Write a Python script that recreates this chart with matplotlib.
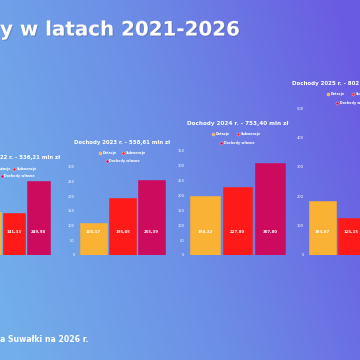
import numpy as np
import matplotlib
matplotlib.use("Agg")
import matplotlib.pyplot as plt
from matplotlib.colors import LinearSegmentedColormap
import matplotlib.patheffects as pe

# values (mln zl)
years = ["2022", "2023", "2024", "2025"]
categories = ["Dotacje", "Subwencje", "Dochody własne"]
v2022 = [144.90, 141.33, 249.98]
v2023 = [108.17, 195.05, 255.39]
v2024 = [198.32, 227.80, 307.80]
v2025 = [183.87, 125.15, 493.54]
ytops = [250, 300, 350, 500]
ysteps = [50, 50, 50, 100]
values = [v2022, v2023, v2024, v2025]
# only the parts of the texts that are inside the cropped slide
titles = ["22 r. - 536,21 mln zł", "Dochody 2023 r. - 558,61 mln zł",
          "Dochody 2024 r. - 753,40 mln zł", "Dochody 2025 r. - 802"]
leg_names = [["otacje", "Subwencje", "Dochody własne"],
             categories, categories,
             ["Dotacje", "Su", "Dochody wł"]]
colors = ["#F9B233", "#FF1A1A", "#CC0A5E"]

W = H = 360.0

def fx(px):
    return px / W

def fy(py):
    return 1 - py / H

fig = plt.figure(figsize=(3.6, 3.6), dpi=100)

# gradient background
bg = fig.add_axes([0, 0, 1, 1])
xx, yy = np.meshgrid(np.linspace(0, 1, 300), np.linspace(0, 1, 300))
t = np.clip(0.85 * xx + 0.25 * (1 - yy) - 0.05, 0, 1)
cmap = LinearSegmentedColormap.from_list("bg", ["#72AEEA", "#6C8DE6", "#6A5CE2"])
bg.imshow(t, cmap=cmap, extent=[0, 1, 0, 1], aspect="auto", origin="upper")
bg.axis("off")

fig.text(fx(0), fy(30), "y w latach 2021-2026", color="white", fontsize=14.3,
         fontweight="bold", va="center", ha="left",
         path_effects=[pe.withSimplePatchShadow(offset=(0.8, -0.8), alpha=0.25)])
fig.text(fx(0), fy(340), "a Suwałki na 2026 r.", color="white", fontsize=5.6,
         fontweight="bold", va="center", ha="left")

# layout of the four small charts (pixels)
ax_left = [-22.75, 79, 188.75, 308]
ax_width = [73.5, 87, 97.5, 87]
ax_topy = [181, 167, 150, 108]
base_y = 255
bar_w = [0.9, 0.93, 0.92, 0.93]
title_pos = [(0, 157, "left"), (122, 143, "center"), (237.5, 124, "center"),
             (292, 84, "left")]
title_fs = [3.9, 3.9, 4.1, 4.0]
leg_row1 = [(-10, 14, 169), (100, 123, 153), (213, 238, 134), (328, 353, 94)]
leg_row2 = [(2, 176), (107, 161), (221, 143), (337, 103)]

for i in range(4):
    ax = fig.add_axes([fx(ax_left[i]), fy(base_y), ax_width[i] / W,
                       (base_y - ax_topy[i]) / H])
    ax.patch.set_alpha(0)
    x = np.arange(3)
    ax.bar(x, values[i], width=bar_w[i], color=colors, edgecolor=colors,
           linewidth=0.4)
    ax.set_xlim(-0.5, 2.5)
    ax.set_ylim(0, ytops[i])
    ax.set_yticks(np.arange(0, ytops[i] + 1, ysteps[i]))
    ax.tick_params(axis="y", colors="white", labelsize=2.6, length=0, pad=3)
    if i == 0:
        ax.set_yticklabels([])
    ax.set_xticks([])
    for s in ax.spines.values():
        s.set_visible(False)
    lab_y = ytops[i] * (base_y - 232) / (base_y - ax_topy[i])
    shown = [1, 2] if i == 0 else ([0, 1] if i == 3 else [0, 1, 2])
    for j in shown:
        ax.text(x[j], lab_y, f"{values[i][j]:.2f}".replace(".", ","),
                color="white", fontsize=2.8, fontweight="bold",
                ha="center", va="center")

    tx, ty, tha = title_pos[i]
    fig.text(fx(tx), fy(ty), titles[i], color="white", fontsize=title_fs[i],
             fontweight="bold", ha=tha, va="center")
    ox, rx, ly = leg_row1[i]
    dx, dy = leg_row2[i]
    names = leg_names[i]
    for (mx, my, c, name) in [(ox, ly, colors[0], names[0]),
                               (rx, ly, colors[1], names[1]),
                               (dx, dy, colors[2], names[2])]:
        bg.plot([fx(mx)], [fy(my)], marker="o", markersize=2.2, color=c,
                markeredgecolor="#E8D0F0", markeredgewidth=0.3,
                transform=fig.transFigure, clip_on=False)
        fig.text(fx(max(mx + 2.5, 0)), fy(my), name, color="white",
                 fontsize=2.4, fontweight="bold", ha="left", va="center")

fig.savefig("out.png", dpi=100)
